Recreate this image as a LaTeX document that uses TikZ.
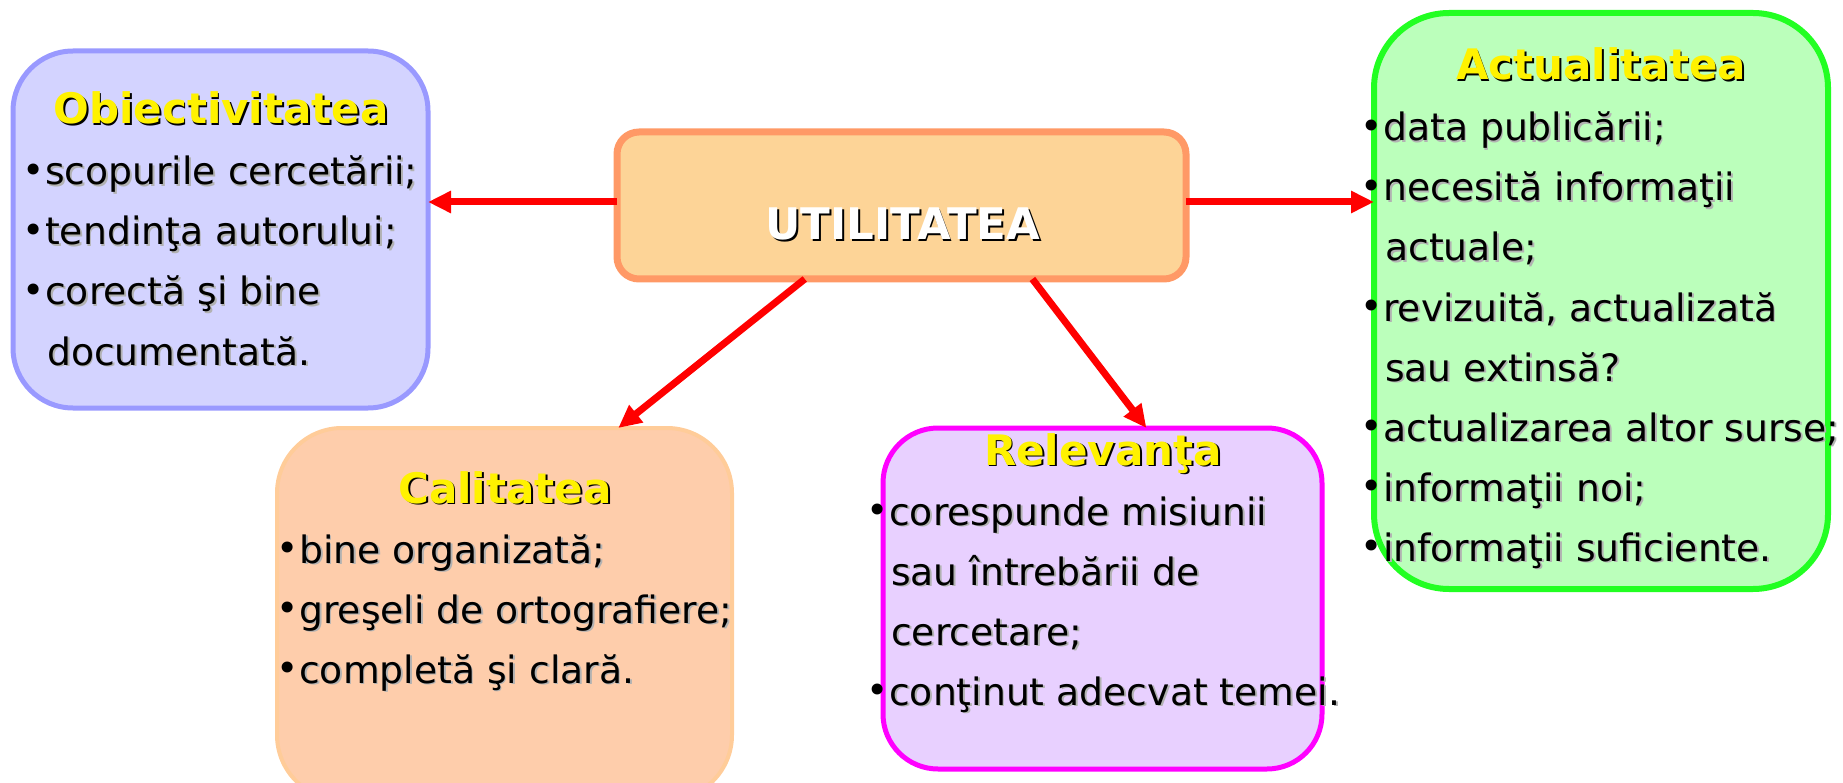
\documentclass[tikz,border=0pt]{standalone}
\usepackage{fontspec}
\setmainfont{DejaVu Sans}
\usetikzlibrary{arrows.meta, calc}

\definecolor{objfill}{HTML}{D3D3FF}
\definecolor{objline}{HTML}{9999FF}
\definecolor{utilfill}{HTML}{FDD497}
\definecolor{utilline}{HTML}{FF9966}
\definecolor{actfill}{HTML}{BBFFBB}
\definecolor{actline}{HTML}{22FF22}
\definecolor{calfill}{HTML}{FECDAB}
\definecolor{calline}{HTML}{FFCC99}
\definecolor{relfill}{HTML}{E8D0FF}
\definecolor{relline}{HTML}{FF00FF}

% text with a drop shadow, bullet, indent of a continued line
\newcommand{\sh}[2][black!30]{\makebox[0pt][l]{\kern1.8pt\raisebox{-1.8pt}{\textcolor{#1}{#2}}}#2}
\newcommand{\bul}{\llap{\raisebox{1.5pt}{•}}}
\newcommand{\ind}{\kern2pt}

\tikzset{
  box/.style={draw, rounded corners=#1, inner sep=0pt, outer sep=0pt},
  box/.default=60pt,
  ttl/.style={anchor=base, inner sep=0pt, text=yellow,
    font=\fontsize{42}{50}\selectfont\bfseries},
  txt/.style={anchor=base west, inner sep=0pt,
    font=\fontsize{37.7}{45}\selectfont},
  arr/.style={draw=red, line width=7pt, -{Triangle[length=23pt,width=21pt]}}
}

\begin{document}
\begin{tikzpicture}[x=1pt, y=-1pt]
  \useasboundingbox (0,0) rectangle (1843,783);

  \node[box=60pt, draw=objline, fill=objfill, line width=5pt,
    minimum width=415pt, minimum height=357pt] (obj) at (220.5,229.5) {};
  \node[box=22pt, draw=utilline, fill=utilfill, line width=7pt,
    minimum width=569pt, minimum height=147pt] (util) at (901.5,205.5) {};
  \node[box=75pt, draw=actline, fill=actfill, line width=6pt,
    minimum width=454pt, minimum height=576pt] (act) at (1601,301) {};
  \node[box=65pt, draw=calline, fill=calfill, line width=4pt,
    minimum width=455pt, minimum height=372pt] (cal) at (504.5,614) {};
  \node[box=55pt, draw=relline, fill=relfill, line width=5pt,
    minimum width=439pt, minimum height=341pt] (rel) at (1102.5,598.5) {};

  % arrows
  \draw[arr] ([yshift=3.5pt]util.west) -- ([yshift=3.5pt]util.west -| obj.east);
  \draw[arr] ([yshift=3.5pt]util.east) -- ([yshift=3.5pt]util.east -| act.west);
  \draw[arr] ($(util.south west)!0.33!(util.south east)$)
    -- ($(cal.north west)!0.75!(cal.north east)$);
  \draw[arr] ($(util.south west)!0.73!(util.south east)$)
    -- ($(rel.north west)!0.6!(rel.north east)$);

  % titles
  \node[ttl, text=white, font=\fontsize{43.5}{50}\selectfont\bfseries]
    (utilt) at (903,240) {\sh[black]{UTILITATEA}};
  \node[ttl] (objt) at (221,124) {\sh[black]{Obiectivitatea}};
  \node[ttl] (actt) at (1601,80) {\sh[black]{Actualitatea}};
  \node[ttl] (calt) at (505,503) {\sh[black]{Calitatea}};
  \node[ttl] (relt) at (1103,465) {\sh[black]{Relevanţa}};

  % lists
  \foreach \t [count=\i] in {{\bul\sh{scopurile cercetării;}},
      {\bul\sh{tendinţa autorului;}}, {\bul\sh{corectă şi bine}},
      {\ind\sh{documentată.}}}
    \node[txt] (obj\i) at (45,125+60*\i) {\t};

  \foreach \t [count=\i] in {{\bul\sh{data publicării;}},
      {\bul\sh{necesită informaţii}}, {\ind\sh{actuale;}},
      {\bul\sh{revizuită, actualizată}}, {\ind\sh{sau extinsă?}},
      {\bul\sh{actualizarea altor surse;}}, {\bul\sh{informaţii noi;}},
      {\bul\sh{informaţii suficiente.}}}
    \node[txt] (act\i) at (1383,81+60*\i) {\t};

  \foreach \t [count=\i] in {{\bul\sh{bine organizată;}},
      {\bul\sh{greşeli de ortografiere;}}, {\bul\sh{completă şi clară.}}}
    \node[txt] (cal\i) at (299,503+60*\i) {\t};

  \foreach \t [count=\i] in {{\bul\sh{corespunde misiunii}},
      {\ind\sh{sau întrebării de}}, {\ind\sh{cercetare;}},
      {\bul\sh{conţinut adecvat temei.}}}
    \node[txt] (rel\i) at (889,465+60*\i) {\t};
\end{tikzpicture}
\end{document}
